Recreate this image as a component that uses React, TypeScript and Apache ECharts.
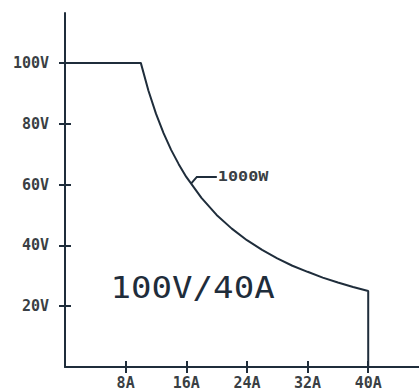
import React, { useEffect, useRef } from 'react';
import * as echarts from 'echarts';

// Output characteristic: current (A) vs voltage (V)
const current = [0, 10, 11, 12, 13, 14, 15, 16, 18, 20, 22, 24, 26, 28, 30, 32, 34, 36, 38, 40, 40];
const voltage = [100, 100, 90.9, 83.3, 76.9, 71.4, 66.7, 62.5, 55.6, 50, 45.5, 41.7, 38.5, 35.7, 33.3, 31.3, 29.4, 27.8, 26.3, 25, 0];
const xTicks = [8, 16, 24, 32, 40];
const yTicks = [20, 40, 60, 80, 100];
const curveLabel = '1000W';
const ratingLabel = '100V/40A';
const curveLabelAnchor = [16.6, 60.2];
const ratingLabelAnchor = [6, 26];

const INK = '#1f2d3b';
const TEXT = '#3a3f44';

export default function App() {
  const ref = useRef<HTMLDivElement>(null);
  useEffect(() => {
    if (!ref.current) return;
    const chart = echarts.init(ref.current, undefined, { renderer: 'svg' });
    const labelFont = {
      fontFamily: 'DejaVu Sans Mono',
      fontWeight: 'bold' as const,
      fontSize: 15,
      color: TEXT,
    };
    const xBase = {
      type: 'value' as const,
      min: 0,
      max: 46.7,
      position: 'bottom' as const,
      splitLine: { show: false },
    };
    const yBase = {
      type: 'value' as const,
      min: 0,
      max: 116.4,
      position: 'left' as const,
      splitLine: { show: false },
    };
    chart.setOption({
      animation: false,
      grid: { left: 65, right: 0, top: 13, bottom: 21 },
      xAxis: [
        {
          ...xBase,
          axisLine: { show: true, lineStyle: { color: INK, width: 2 } },
          axisTick: { show: true, customValues: xTicks, length: 6, lineStyle: { color: INK, width: 2 } },
          axisLabel: { ...labelFont, customValues: xTicks, margin: 8, formatter: (v: number) => v + 'A' },
        },
        {
          ...xBase,
          axisLine: { show: false },
          axisTick: { show: true, inside: true, customValues: xTicks, length: 6, lineStyle: { color: INK, width: 2 } },
          axisLabel: { show: false },
        },
      ],
      yAxis: [
        {
          ...yBase,
          axisLine: { show: true, lineStyle: { color: INK, width: 2 } },
          axisTick: { show: true, customValues: yTicks, length: 6, lineStyle: { color: INK, width: 2 } },
          axisLabel: { ...labelFont, customValues: yTicks, margin: 16, formatter: (v: number) => v + 'V' },
        },
        {
          ...yBase,
          axisLine: { show: false },
          axisTick: { show: true, inside: true, customValues: yTicks, length: 6, lineStyle: { color: INK, width: 2 } },
          axisLabel: { show: false },
        },
      ],
      series: [
        {
          type: 'line',
          xAxisIndex: 0,
          yAxisIndex: 0,
          data: current.map((c, i) => [c, voltage[i]]),
          symbol: 'none',
          lineStyle: { color: INK, width: 2 },
        },
      ],
    });
    const p = chart.convertToPixel({ gridIndex: 0 }, curveLabelAnchor) as number[];
    const r = chart.convertToPixel({ gridIndex: 0 }, ratingLabelAnchor) as number[];
    chart.setOption({
      graphic: [
        {
          type: 'polyline',
          shape: { points: [[p[0], p[1]], [p[0] + 6, p[1] - 7], [p[0] + 26, p[1] - 7]] },
          style: { stroke: INK, lineWidth: 2, fill: 'none' },
        },
        {
          type: 'text',
          x: p[0] + 27,
          y: p[1] - 7,
          scaleX: 1.2,
          style: {
            text: curveLabel,
            fontFamily: 'DejaVu Sans Mono',
            fontWeight: 'bold',
            fontSize: 14,
            fill: TEXT,
            textAlign: 'left',
            textVerticalAlign: 'middle',
            verticalAlign: 'middle',
          },
        },
        {
          type: 'text',
          x: r[0],
          y: r[1],
          scaleX: 1.1,
          style: {
            text: ratingLabel,
            fontFamily: 'DejaVu Sans Mono',
            fontSize: 31,
            fill: INK,
            textAlign: 'left',
            textVerticalAlign: 'middle',
            verticalAlign: 'middle',
          },
        },
      ],
    });
    return () => chart.dispose();
  }, []);
  return <div ref={ref} style={{ position: 'absolute', left: 0, top: 0, width: 419, height: 390 }} />;
}
